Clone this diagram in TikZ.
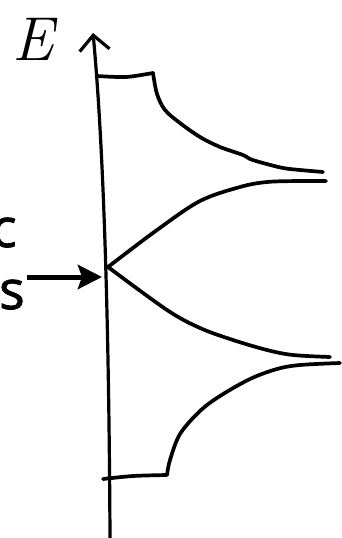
\documentclass[tikz,border=0pt]{standalone}
\usepackage{fontspec}
\usepackage{tikz}
\usetikzlibrary{arrows.meta}
\newfontfamily\labelfont{Open Sans}[FakeBold=1.3]

\begin{document}
\begin{tikzpicture}[
  x=1pt, y=-1pt,
  curve/.style={line width=3.7pt, line cap=round, line join=round},
  axis/.style={line width=3.2pt, line cap=round, -{Straight Barb[length=15pt, width=30pt, line width=3.2pt]}},
  pointer/.style={line width=5pt, -{Stealth[length=24pt, width=24pt, inset=4pt]}},
  tag/.style={inner sep=0pt, font=\labelfont\fontsize{54}{60}\selectfont}
]
\useasboundingbox (0,0) rectangle (342,538);

% Axis
\coordinate (axis bottom) at (110,538);
\coordinate (axis top) at (93,33);
\draw[axis] (axis bottom) .. controls (109,330) and (104,150) .. (axis top);
\node[anchor=base west, inner sep=0pt, font=\fontsize{62}{62}\selectfont\itshape] (energy) at (12,60) {E};

% Upper band
\draw[curve] plot[smooth] coordinates {(97,76) (126,77) (153,73)}
  -- plot[smooth, tension=0.55] coordinates {(153,73) (157,94) (165,110) (180,123) (200,137) (220,147) (243,155) (250,159) (263,163) (283,168) (300,170) (323,172)};

% Dirac cone
\coordinate (dirac) at (108,267);
\draw[curve] plot[smooth, tension=0.55] coordinates {(dirac) (157,230) (200,201) (240,187) (267,182) (300,181) (326,181)};
\draw[curve] plot[smooth, tension=0.55] coordinates {(dirac) (167,310) (200,328) (233,340) (267,350) (293,355) (330,357)};

% Lower band
\draw[curve] plot[smooth, tension=0.55] coordinates {(340,363) (300,365) (277,369) (250,379) (220,396) (200,411) (180,434) (170,460) (167,475)}
  -- plot[smooth] coordinates {(167,475) (133,476) (103,479)};

% Label
\node[tag, anchor=base east] (line one) at (17,247) {c};
\node[tag, anchor=base east] (line two) at (25,309) {ts};
\coordinate (tail) at (27,277);
\coordinate (head) at (102,277);
\draw[pointer] (tail) -- (head);

\end{tikzpicture}
\end{document}
